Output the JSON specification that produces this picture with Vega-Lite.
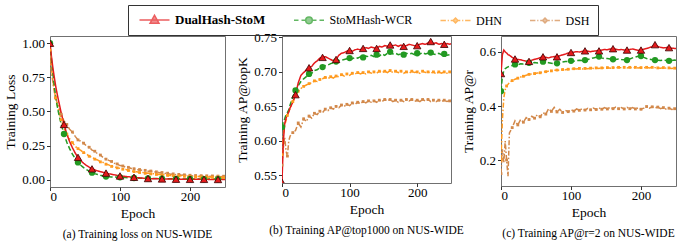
{
"$schema": "https://vega.github.io/schema/vega-lite/v6.json",
"padding": {"left": 3, "top": 4, "right": 4, "bottom": 2},
"background": "white",
"config": {
  "font": "Liberation Serif",
  "view": {"stroke": "#707070", "strokeWidth": 1},
  "axis": {"labelFont": "Liberation Serif", "titleFont": "Liberation Serif", "labelFontSize": 13, "titleFontSize": 13.5, "labelColor": "black", "titleColor": "black", "titleFontWeight": "normal", "grid": false, "domain": false, "tickColor": "#333", "tickSize": 3.5},
  "axisX": {"titlePadding": 3, "labelPadding": 0, "titleFontWeight": "normal"},
  "axisY": {"titlePadding": 4, "labelPadding": 2, "titleFontWeight": "normal"},
  "legend": {"labelFont": "Liberation Serif", "labelFontSize": 12, "labelColor": "black"},
  "title": {"font": "Liberation Serif", "fontSize": 11.5, "fontWeight": "normal", "color": "black", "orient": "bottom", "offset": 9}
},
"datasets": {
"a": [
{"e":0,"S":1.0,"W":1.0,"H":0.95,"D":0.9},
{"e":2,"S":0.905,"W":0.885,"H":0.83,"D":0.79},
{"e":4,"S":0.825,"W":0.785,"H":0.74,"D":0.72},
{"e":6,"S":0.755,"W":0.695,"H":0.66,"D":0.65},
{"e":8,"S":0.69,"W":0.615,"H":0.6,"D":0.6},
{"e":10,"S":0.635,"W":0.55,"H":0.555,"D":0.57},
{"e":12,"S":0.585,"W":0.495,"H":0.515,"D":0.545},
{"e":16,"S":0.49,"W":0.405,"H":0.44,"D":0.48},
{"e":20,"S":0.405,"W":0.335,"H":0.375,"D":0.43},
{"e":24,"S":0.335,"W":0.275,"H":0.335,"D":0.405},
{"e":28,"S":0.28,"W":0.228,"H":0.3,"D":0.37},
{"e":32,"S":0.235,"W":0.188,"H":0.272,"D":0.35},
{"e":36,"S":0.196,"W":0.155,"H":0.245,"D":0.318},
{"e":40,"S":0.164,"W":0.127,"H":0.228,"D":0.292},
{"e":44,"S":0.14,"W":0.106,"H":0.215,"D":0.283},
{"e":48,"S":0.121,"W":0.089,"H":0.199,"D":0.268},
{"e":52,"S":0.105,"W":0.075,"H":0.19,"D":0.249},
{"e":56,"S":0.092,"W":0.063,"H":0.172,"D":0.238},
{"e":60,"S":0.08,"W":0.052,"H":0.166,"D":0.217},
{"e":64,"S":0.072,"W":0.045,"H":0.151,"D":0.209},
{"e":68,"S":0.065,"W":0.039,"H":0.145,"D":0.19},
{"e":72,"S":0.059,"W":0.033,"H":0.131,"D":0.181},
{"e":76,"S":0.054,"W":0.028,"H":0.127,"D":0.162},
{"e":80,"S":0.049,"W":0.024,"H":0.114,"D":0.151},
{"e":84,"S":0.044,"W":0.022,"H":0.109,"D":0.142},
{"e":88,"S":0.04,"W":0.021,"H":0.098,"D":0.134},
{"e":92,"S":0.036,"W":0.02,"H":0.096,"D":0.121},
{"e":96,"S":0.032,"W":0.019,"H":0.087,"D":0.116},
{"e":100,"S":0.028,"W":0.018,"H":0.085,"D":0.104},
{"e":104,"S":0.026,"W":0.017,"H":0.077,"D":0.101},
{"e":108,"S":0.024,"W":0.016,"H":0.076,"D":0.092},
{"e":112,"S":0.022,"W":0.015,"H":0.068,"D":0.091},
{"e":116,"S":0.02,"W":0.014,"H":0.066,"D":0.083},
{"e":120,"S":0.018,"W":0.013,"H":0.06,"D":0.081},
{"e":124,"S":0.016,"W":0.012,"H":0.059,"D":0.074},
{"e":128,"S":0.014,"W":0.012,"H":0.053,"D":0.075},
{"e":132,"S":0.012,"W":0.011,"H":0.054,"D":0.068},
{"e":136,"S":0.01,"W":0.011,"H":0.047,"D":0.069},
{"e":140,"S":0.009,"W":0.01,"H":0.049,"D":0.063},
{"e":144,"S":0.008,"W":0.01,"H":0.043,"D":0.064},
{"e":148,"S":0.008,"W":0.009,"H":0.044,"D":0.057},
{"e":152,"S":0.007,"W":0.009,"H":0.039,"D":0.058},
{"e":156,"S":0.007,"W":0.009,"H":0.04,"D":0.051},
{"e":160,"S":0.006,"W":0.008,"H":0.035,"D":0.053},
{"e":164,"S":0.006,"W":0.008,"H":0.036,"D":0.046},
{"e":168,"S":0.005,"W":0.008,"H":0.032,"D":0.048},
{"e":172,"S":0.005,"W":0.007,"H":0.033,"D":0.041},
{"e":176,"S":0.005,"W":0.007,"H":0.029,"D":0.043},
{"e":180,"S":0.004,"W":0.007,"H":0.031,"D":0.037},
{"e":184,"S":0.004,"W":0.007,"H":0.027,"D":0.039},
{"e":188,"S":0.004,"W":0.006,"H":0.029,"D":0.033},
{"e":192,"S":0.004,"W":0.006,"H":0.025,"D":0.036},
{"e":196,"S":0.003,"W":0.006,"H":0.027,"D":0.03},
{"e":200,"S":0.003,"W":0.006,"H":0.023,"D":0.033},
{"e":204,"S":0.003,"W":0.006,"H":0.025,"D":0.028},
{"e":208,"S":0.003,"W":0.005,"H":0.021,"D":0.031},
{"e":212,"S":0.003,"W":0.005,"H":0.024,"D":0.026},
{"e":216,"S":0.003,"W":0.005,"H":0.02,"D":0.03},
{"e":220,"S":0.003,"W":0.005,"H":0.022,"D":0.025},
{"e":224,"S":0.003,"W":0.005,"H":0.019,"D":0.029},
{"e":228,"S":0.002,"W":0.005,"H":0.021,"D":0.024},
{"e":232,"S":0.002,"W":0.005,"H":0.018,"D":0.028},
{"e":236,"S":0.002,"W":0.005,"H":0.02,"D":0.023},
{"e":240,"S":0.002,"W":0.004,"H":0.017,"D":0.027},
{"e":244,"S":0.002,"W":0.004,"H":0.019,"D":0.022},
{"e":248,"S":0.002,"W":0.004,"H":0.016,"D":0.026},
{"e":250,"S":0.002,"W":0.004,"H":0.018,"D":0.024}
],
"b": [
{"e":0,"S":0.54,"W":0.62,"H":0.58,"D":0.565},
{"e":2,"S":0.6,"W":0.628,"H":0.61,"D":0.59},
{"e":4,"S":0.625,"W":0.632,"H":0.622,"D":0.605},
{"e":6,"S":0.633,"W":0.638,"H":0.63,"D":0.585},
{"e":8,"S":0.638,"W":0.641,"H":0.637,"D":0.578},
{"e":10,"S":0.642,"W":0.645,"H":0.643,"D":0.6},
{"e":12,"S":0.648,"W":0.652,"H":0.647,"D":0.607},
{"e":16,"S":0.656,"W":0.664,"H":0.657,"D":0.612},
{"e":20,"S":0.667,"W":0.673,"H":0.664,"D":0.615},
{"e":24,"S":0.684,"W":0.68,"H":0.672,"D":0.626},
{"e":28,"S":0.695,"W":0.686,"H":0.676,"D":0.62},
{"e":32,"S":0.699,"W":0.69,"H":0.679,"D":0.632},
{"e":36,"S":0.703,"W":0.693,"H":0.681,"D":0.628},
{"e":40,"S":0.706,"W":0.697,"H":0.683,"D":0.636},
{"e":44,"S":0.708,"W":0.698,"H":0.684,"D":0.633},
{"e":48,"S":0.713,"W":0.702,"H":0.687,"D":0.64},
{"e":52,"S":0.716,"W":0.703,"H":0.686,"D":0.638},
{"e":56,"S":0.72,"W":0.706,"H":0.689,"D":0.643},
{"e":60,"S":0.721,"W":0.707,"H":0.69,"D":0.641},
{"e":64,"S":0.722,"W":0.709,"H":0.692,"D":0.646},
{"e":68,"S":0.72,"W":0.71,"H":0.69,"D":0.644},
{"e":72,"S":0.718,"W":0.712,"H":0.693,"D":0.648},
{"e":76,"S":0.716,"W":0.713,"H":0.691,"D":0.646},
{"e":80,"S":0.718,"W":0.715,"H":0.694,"D":0.65},
{"e":84,"S":0.724,"W":0.716,"H":0.693,"D":0.648},
{"e":88,"S":0.727,"W":0.717,"H":0.696,"D":0.652},
{"e":92,"S":0.728,"W":0.718,"H":0.694,"D":0.65},
{"e":96,"S":0.73,"W":0.719,"H":0.697,"D":0.653},
{"e":100,"S":0.731,"W":0.72,"H":0.695,"D":0.651},
{"e":104,"S":0.73,"W":0.719,"H":0.698,"D":0.655},
{"e":108,"S":0.732,"W":0.721,"H":0.697,"D":0.653},
{"e":112,"S":0.733,"W":0.72,"H":0.699,"D":0.656},
{"e":116,"S":0.732,"W":0.722,"H":0.697,"D":0.654},
{"e":120,"S":0.734,"W":0.721,"H":0.699,"D":0.657},
{"e":124,"S":0.735,"W":0.723,"H":0.697,"D":0.655},
{"e":128,"S":0.734,"W":0.722,"H":0.7,"D":0.658},
{"e":132,"S":0.736,"W":0.724,"H":0.698,"D":0.656},
{"e":136,"S":0.735,"W":0.722,"H":0.7,"D":0.658},
{"e":140,"S":0.734,"W":0.725,"H":0.698,"D":0.656},
{"e":144,"S":0.737,"W":0.723,"H":0.701,"D":0.659},
{"e":148,"S":0.736,"W":0.726,"H":0.699,"D":0.657},
{"e":152,"S":0.738,"W":0.724,"H":0.701,"D":0.66},
{"e":156,"S":0.737,"W":0.727,"H":0.699,"D":0.658},
{"e":160,"S":0.739,"W":0.729,"H":0.702,"D":0.66},
{"e":164,"S":0.738,"W":0.726,"H":0.699,"D":0.657},
{"e":168,"S":0.739,"W":0.727,"H":0.701,"D":0.659},
{"e":172,"S":0.737,"W":0.725,"H":0.699,"D":0.656},
{"e":176,"S":0.739,"W":0.726,"H":0.701,"D":0.659},
{"e":180,"S":0.737,"W":0.725,"H":0.698,"D":0.657},
{"e":184,"S":0.738,"W":0.727,"H":0.7,"D":0.66},
{"e":188,"S":0.74,"W":0.726,"H":0.698,"D":0.658},
{"e":192,"S":0.739,"W":0.727,"H":0.701,"D":0.66},
{"e":196,"S":0.738,"W":0.725,"H":0.699,"D":0.657},
{"e":200,"S":0.738,"W":0.727,"H":0.7,"D":0.659},
{"e":204,"S":0.74,"W":0.726,"H":0.698,"D":0.657},
{"e":208,"S":0.741,"W":0.728,"H":0.701,"D":0.66},
{"e":212,"S":0.74,"W":0.726,"H":0.699,"D":0.658},
{"e":216,"S":0.742,"W":0.727,"H":0.7,"D":0.66},
{"e":220,"S":0.744,"W":0.728,"H":0.698,"D":0.657},
{"e":224,"S":0.741,"W":0.726,"H":0.7,"D":0.659},
{"e":228,"S":0.742,"W":0.725,"H":0.697,"D":0.657},
{"e":232,"S":0.74,"W":0.727,"H":0.7,"D":0.659},
{"e":236,"S":0.741,"W":0.725,"H":0.698,"D":0.657},
{"e":240,"S":0.74,"W":0.726,"H":0.7,"D":0.659},
{"e":244,"S":0.741,"W":0.724,"H":0.698,"D":0.657},
{"e":248,"S":0.74,"W":0.725,"H":0.7,"D":0.658},
{"e":250,"S":0.741,"W":0.725,"H":0.699,"D":0.658}
],
"c": [
{"e":0,"S":0.52,"W":0.455,"H":0.2,"D":0.15},
{"e":2,"S":0.59,"W":0.51,"H":0.35,"D":0.24},
{"e":4,"S":0.607,"W":0.53,"H":0.43,"D":0.19},
{"e":6,"S":0.6,"W":0.538,"H":0.46,"D":0.27},
{"e":8,"S":0.596,"W":0.542,"H":0.474,"D":0.2},
{"e":10,"S":0.59,"W":0.545,"H":0.48,"D":0.14},
{"e":12,"S":0.588,"W":0.547,"H":0.487,"D":0.3},
{"e":16,"S":0.58,"W":0.55,"H":0.494,"D":0.32},
{"e":20,"S":0.574,"W":0.554,"H":0.499,"D":0.345},
{"e":24,"S":0.572,"W":0.553,"H":0.503,"D":0.33},
{"e":28,"S":0.571,"W":0.556,"H":0.507,"D":0.35},
{"e":32,"S":0.568,"W":0.555,"H":0.51,"D":0.34},
{"e":36,"S":0.566,"W":0.558,"H":0.514,"D":0.357},
{"e":40,"S":0.565,"W":0.56,"H":0.517,"D":0.35},
{"e":44,"S":0.569,"W":0.558,"H":0.518,"D":0.362},
{"e":48,"S":0.573,"W":0.561,"H":0.52,"D":0.355},
{"e":52,"S":0.575,"W":0.559,"H":0.522,"D":0.368},
{"e":56,"S":0.579,"W":0.562,"H":0.523,"D":0.36},
{"e":60,"S":0.582,"W":0.564,"H":0.526,"D":0.375},
{"e":64,"S":0.58,"W":0.562,"H":0.527,"D":0.37},
{"e":68,"S":0.578,"W":0.56,"H":0.529,"D":0.39},
{"e":72,"S":0.581,"W":0.558,"H":0.53,"D":0.38},
{"e":76,"S":0.583,"W":0.556,"H":0.532,"D":0.395},
{"e":80,"S":0.582,"W":0.558,"H":0.533,"D":0.378},
{"e":84,"S":0.586,"W":0.561,"H":0.532,"D":0.388},
{"e":88,"S":0.589,"W":0.563,"H":0.535,"D":0.376},
{"e":92,"S":0.592,"W":0.565,"H":0.534,"D":0.384},
{"e":96,"S":0.596,"W":0.564,"H":0.536,"D":0.379},
{"e":100,"S":0.598,"W":0.567,"H":0.536,"D":0.386},
{"e":104,"S":0.599,"W":0.566,"H":0.538,"D":0.381},
{"e":108,"S":0.601,"W":0.568,"H":0.537,"D":0.389},
{"e":112,"S":0.6,"W":0.569,"H":0.539,"D":0.384},
{"e":116,"S":0.602,"W":0.568,"H":0.537,"D":0.39},
{"e":120,"S":0.604,"W":0.57,"H":0.539,"D":0.385},
{"e":124,"S":0.603,"W":0.572,"H":0.538,"D":0.391},
{"e":128,"S":0.601,"W":0.575,"H":0.54,"D":0.386},
{"e":132,"S":0.603,"W":0.578,"H":0.539,"D":0.392},
{"e":136,"S":0.604,"W":0.58,"H":0.541,"D":0.387},
{"e":140,"S":0.604,"W":0.583,"H":0.539,"D":0.393},
{"e":144,"S":0.607,"W":0.578,"H":0.541,"D":0.388},
{"e":148,"S":0.609,"W":0.575,"H":0.54,"D":0.394},
{"e":152,"S":0.608,"W":0.576,"H":0.542,"D":0.389},
{"e":156,"S":0.611,"W":0.574,"H":0.54,"D":0.395},
{"e":160,"S":0.612,"W":0.573,"H":0.542,"D":0.39},
{"e":164,"S":0.61,"W":0.572,"H":0.541,"D":0.396},
{"e":168,"S":0.608,"W":0.574,"H":0.543,"D":0.39},
{"e":172,"S":0.609,"W":0.572,"H":0.541,"D":0.394},
{"e":176,"S":0.607,"W":0.571,"H":0.543,"D":0.389},
{"e":180,"S":0.607,"W":0.57,"H":0.541,"D":0.395},
{"e":184,"S":0.609,"W":0.574,"H":0.543,"D":0.39},
{"e":188,"S":0.611,"W":0.578,"H":0.541,"D":0.394},
{"e":192,"S":0.608,"W":0.581,"H":0.543,"D":0.389},
{"e":196,"S":0.606,"W":0.584,"H":0.541,"D":0.393},
{"e":200,"S":0.607,"W":0.585,"H":0.542,"D":0.388},
{"e":204,"S":0.61,"W":0.58,"H":0.541,"D":0.392},
{"e":208,"S":0.613,"W":0.576,"H":0.543,"D":0.398},
{"e":212,"S":0.616,"W":0.573,"H":0.541,"D":0.392},
{"e":216,"S":0.62,"W":0.571,"H":0.543,"D":0.397},
{"e":220,"S":0.627,"W":0.57,"H":0.542,"D":0.393},
{"e":224,"S":0.62,"W":0.569,"H":0.541,"D":0.396},
{"e":228,"S":0.617,"W":0.568,"H":0.54,"D":0.39},
{"e":232,"S":0.615,"W":0.57,"H":0.542,"D":0.394},
{"e":236,"S":0.616,"W":0.568,"H":0.54,"D":0.388},
{"e":240,"S":0.616,"W":0.567,"H":0.541,"D":0.392},
{"e":244,"S":0.614,"W":0.568,"H":0.539,"D":0.387},
{"e":248,"S":0.613,"W":0.57,"H":0.54,"D":0.39},
{"e":250,"S":0.613,"W":0.569,"H":0.539,"D":0.388}
]
},
"spacing": 9,
"resolve": {"scale": {"color": "shared", "shape": "shared"}, "legend": {"color": "shared", "shape": "shared"}},
"hconcat": [
{
  "width": 175, "height": 151,
  "data": {"name": "a"},
  "transform": [{"fold": ["D","H","W","S"], "as": ["s","v"]}],
  "title": {"text": "(a) Training loss on NUS-WIDE"},
  "encoding": {
    "x": {"field": "e", "type": "quantitative", "scale": {"domain": [0,250], "nice": false}, "axis": {"values": [0,100,200], "title": "Epoch", "titleFontWeight": 400}},
    "y": {"field": "v", "type": "quantitative", "scale": {"domain": [-0.053,1.053], "nice": false, "zero": false}, "axis": {"values": [0,0.25,0.5,0.75,1], "format": ".2f", "title": "Training Loss", "titleFontWeight": 400}},
    "color": {"field": "s", "type": "nominal", "scale": {"domain": ["D","H","W","S"], "range": ["#d2884a","#ff9a1f","#229922","#e41a1c"]}, "legend": null}
  },
  "layer": [
    {"mark": {"type": "line", "clip": true, "strokeWidth": 1.5},
     "encoding": {"strokeDash": {"field": "s", "type": "nominal", "scale": {"domain": ["H","D","W","S"], "range": [[5,2,1.5,2],[5,2,1.5,2],[5,2.5],[1,0]]}, "legend": null}}},
    {"transform": [{"filter": "(datum.s=='H'||datum.s=='D') && datum.e%8==0"}],
     "mark": {"type": "point", "shape": "square", "filled": true, "size": 8, "clip": true, "opacity": 1}},
    {"transform": [{"filter": "datum.s=='W' && datum.e%20==0"}],
     "mark": {"type": "point", "shape": "circle", "filled": true, "size": 40, "clip": true, "opacity": 1}},
    {"transform": [{"filter": "datum.s=='S' && datum.e%20==0"}],
     "mark": {"type": "point", "shape": "triangle-up", "filled": true, "size": 55, "stroke": "#3a0000", "strokeWidth": 0.8, "clip": true, "opacity": 1}},
    {"transform": [{"filter": "datum.e < 0"}],
     "mark": {"type": "point", "filled": true, "size": 144, "strokeWidth": 1.5},
     "encoding": {
       "fill": {"field": "s", "type": "nominal", "scale": {"domain": ["S","W","H","D"], "range": ["#e41a1c","#229922","#ff9a1f","#d2884a"]}},
       "stroke": {"field": "s", "type": "nominal", "scale": {"domain": ["S","W","H","D"], "range": ["#e41a1c","#229922","#ff9a1f","#d2884a"]}},
       "shape": {"field": "s", "type": "nominal",
       "scale": {"domain": ["S","W","H","D"], "range": [
         "M-2.5,0H2.5M-0.75,0.55L0,-0.8L0.75,0.55Z",
         "M-2.5,0H-1.75M-1.25,0H-0.5M0.5,0H1.25M1.75,0H2.5M0.55,0A0.55,0.55 0 1 1 -0.55,0A0.55,0.55 0 1 1 0.55,0Z",
         "M-2.5,0H-1.6M-1.3,0H-1.1M-0.8,0H-0.35M0.35,0H0.8M1.1,0H1.3M1.6,0H2.5M0,-0.4L0.4,0L0,0.4L-0.4,0Z",
         "M-2.5,0H-1.6M-1.3,0H-1.1M-0.8,0H-0.35M0.35,0H0.8M1.1,0H1.3M1.6,0H2.5M0,-0.4L0.4,0L0,0.4L-0.4,0Z"]},
       "legend": {"title": null, "orient": "none", "legendX": 78, "legendY": -31, "direction": "horizontal", "columns": 4,
         "strokeColor": "#333", "padding": 8, "symbolSize": 144, "symbolOffset": 11.5, "labelOffset": 13.5, "columnPadding": 24.5,
         "labelFont": "Liberation Serif", "labelFontSize": {"expr": "datum.value=='S'?13:12"}, "labelFontWeight": {"expr": "datum.value=='S'?'bold':'normal'"}, "labelColor": "black", "symbolStrokeWidth": 1.5,
         "labelExpr": "datum.label=='S'?'DualHash-StoM':datum.label=='W'?'StoMHash-WCR':datum.label=='H'?'DHN':'DSH'"}}}}
  ]
},
{
  "spacing": -5,
  "hconcat": [
  {"vconcat": [
  {
    "width": 169, "height": 147,
    "data": {"name": "b"},
    "transform": [{"fold": ["D","H","W","S"], "as": ["s","v"]}],
    "title": {"text": "(b) Training AP@top1000 on NUS-WIDE"},
    "encoding": {
      "x": {"field": "e", "type": "quantitative", "scale": {"domain": [0,250], "nice": false}, "axis": {"values": [0,100,200], "title": "Epoch", "titleFontWeight": 400}},
      "y": {"field": "v", "type": "quantitative", "scale": {"domain": [0.539,0.752], "nice": false, "zero": false}, "axis": {"values": [0.55,0.6,0.65,0.7,0.75], "format": ".2f", "title": "Training AP@topK", "titleFontWeight": 400}},
      "color": {"field": "s", "type": "nominal", "scale": {"domain": ["D","H","W","S"], "range": ["#d2884a","#ff9a1f","#229922","#e41a1c"]}, "legend": null}
    },
    "layer": [
      {"mark": {"type": "line", "clip": true, "strokeWidth": 1.5},
       "encoding": {"strokeDash": {"field": "s", "type": "nominal", "scale": {"domain": ["H","D","W","S"], "range": [[5,2,1.5,2],[5,2,1.5,2],[5,2.5],[1,0]]}, "legend": null}}},
      {"transform": [{"filter": "(datum.s=='H'||datum.s=='D') && datum.e%8==0"}],
       "mark": {"type": "point", "shape": "square", "filled": true, "size": 8, "clip": true, "opacity": 1}},
      {"transform": [{"filter": "datum.s=='W' && datum.e%20==0"}],
       "mark": {"type": "point", "shape": "circle", "filled": true, "size": 40, "clip": true, "opacity": 1}},
      {"transform": [{"filter": "datum.s=='S' && datum.e%20==0"}],
       "mark": {"type": "point", "shape": "triangle-up", "filled": true, "size": 55, "stroke": "#3a0000", "strokeWidth": 0.8, "clip": true, "opacity": 1}}
    ]
  }]},
  {
    "width": 175, "height": 150,
    "data": {"name": "c"},
    "transform": [{"fold": ["D","H","W","S"], "as": ["s","v"]}],
    "title": {"text": "(c) Training AP@r=2 on NUS-WIDE"},
    "encoding": {
      "x": {"field": "e", "type": "quantitative", "scale": {"domain": [0,250], "nice": false}, "axis": {"values": [0,100,200], "title": "Epoch", "titleFontWeight": 400}},
      "y": {"field": "v", "type": "quantitative", "scale": {"domain": [0.104,0.659], "nice": false, "zero": false}, "axis": {"values": [0.2,0.4,0.6], "format": ".1f", "title": "Training AP@r", "titleFontWeight": 400}},
      "color": {"field": "s", "type": "nominal", "scale": {"domain": ["D","H","W","S"], "range": ["#d2884a","#ff9a1f","#229922","#e41a1c"]}, "legend": null}
    },
    "layer": [
      {"mark": {"type": "line", "clip": true, "strokeWidth": 1.5},
       "encoding": {"strokeDash": {"field": "s", "type": "nominal", "scale": {"domain": ["H","D","W","S"], "range": [[5,2,1.5,2],[5,2,1.5,2],[5,2.5],[1,0]]}, "legend": null}}},
      {"transform": [{"filter": "(datum.s=='H'||datum.s=='D') && datum.e%8==0"}],
       "mark": {"type": "point", "shape": "square", "filled": true, "size": 8, "clip": true, "opacity": 1}},
      {"transform": [{"filter": "datum.s=='W' && datum.e%20==0"}],
       "mark": {"type": "point", "shape": "circle", "filled": true, "size": 40, "clip": true, "opacity": 1}},
      {"transform": [{"filter": "datum.s=='S' && datum.e%20==0"}],
       "mark": {"type": "point", "shape": "triangle-up", "filled": true, "size": 55, "stroke": "#3a0000", "strokeWidth": 0.8, "clip": true, "opacity": 1}}
    ]
  }]
}
]
}
